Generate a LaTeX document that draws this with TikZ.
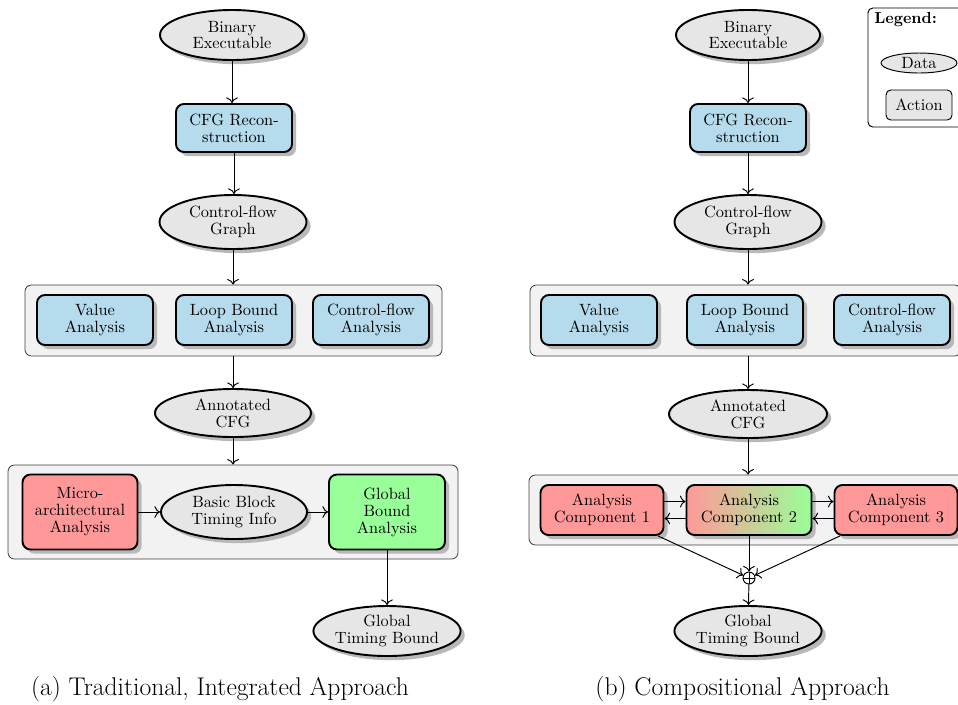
\documentclass[tikz,border=0pt]{standalone}
\usetikzlibrary{shapes.geometric,shadows,arrows.meta}
\definecolor{actblue}{RGB}{181,219,236}
\definecolor{actred}{RGB}{255,153,153}
\definecolor{actgreen}{RGB}{153,255,153}
\definecolor{datagray}{RGB}{230,230,230}
\definecolor{groupgray}{RGB}{242,242,242}
\tikzset{
  sz/.style 2 args={minimum width=#1*0.625pt,minimum height=#2*0.625pt},
  softshadow/.style={drop shadow={shadow xshift=2.6pt,shadow yshift=-2.6pt,fill=black!28,opacity=1}},
  nodefont/.style={font=\fontsize{10.2}{10.6}\selectfont},
  datanode/.style={ellipse,draw,line width=1.2pt,fill=datagray,align=center,inner sep=0pt,nodefont,softshadow},
  actnode/.style={rectangle,rounded corners=5pt,draw,line width=1.2pt,align=center,inner sep=0pt,nodefont,softshadow},
  groupbox/.style={rectangle,rounded corners=4pt,draw=black!75,line width=0.5pt,fill=groupgray,inner sep=0pt},
  flow/.style={-{To[scale=1.2]},line width=0.6pt},
  captext/.style={font=\fontsize{16}{19}\selectfont,inner sep=0pt},
}
\begin{document}
\begin{tikzpicture}[x=0.625pt,y=-0.625pt]
\useasboundingbox (0,0) rectangle (958,704);

% ---------------- (a) traditional, integrated approach ----------------
\node[groupbox,sz={417}{71}] (g1a) at (233.5,320.5) {};
\node[groupbox,sz={450}{94}] (g1b) at (233,512) {};

\node[datanode,sz={144}{50}] (be1) at (232,35) {Binary\\Executable};
\node[actnode,fill=actblue,sz={116}{48}] (cfg1) at (234,128) {CFG Recon-\\struction};
\node[datanode,sz={147}{54}] (cg1) at (233,222) {Control-flow\\Graph};
\node[actnode,fill=actblue,sz={116}{50}] (va1) at (95,320) {Value\\Analysis};
\node[actnode,fill=actblue,sz={116}{50}] (lb1) at (234,320) {Loop Bound\\Analysis};
\node[actnode,fill=actblue,sz={116}{50}] (cf1) at (371,320) {Control-flow\\Analysis};
\node[datanode,sz={156}{48}] (ac1) at (233,413) {Annotated\\CFG};
\node[actnode,fill=actred,sz={115}{75}] (ma1) at (80,512) {Micro-\\architectural\\Analysis};
\node[datanode,sz={146}{54}] (bb1) at (234,512) {Basic Block\\Timing Info};
\node[actnode,fill=actgreen,sz={116}{75}] (gb1) at (387,512) {Global\\Bound\\Analysis};
\node[datanode,sz={146}{50}] (gt1) at (387,631) {Global\\Timing Bound};

\draw[flow] (be1) -- (be1 |- cfg1.north);
\draw[flow] (cfg1) -- (cfg1 |- cg1.north);
\draw[flow] (cg1) -- (cg1 |- g1a.north);
\draw[flow] (g1a.south -| ac1) -- (ac1);
\draw[flow] (ac1) -- (ac1 |- g1b.north);
\draw[flow] (ma1) -- (bb1);
\draw[flow] (bb1) -- (gb1);
\draw[flow] (gb1) -- (gt1);

\node[captext] (capa) at (220,689) {(a) Traditional, Integrated Approach};

% ---------------- (b) compositional approach ----------------
\node[groupbox,sz={431}{71}] (g2a) at (745.5,320.5) {};
\node[groupbox,sz={440}{70}] (g2b) at (749,510) {};

\node[datanode,sz={144}{50}] (be2) at (748,35) {Binary\\Executable};
\node[actnode,fill=actblue,sz={116}{48}] (cfg2) at (748,128) {CFG Recon-\\struction};
\node[datanode,sz={147}{54}] (cg2) at (748,222) {Control-flow\\Graph};
\node[actnode,fill=actblue,sz={116}{50}] (va2) at (599,320) {Value\\Analysis};
\node[actnode,fill=actblue,sz={116}{50}] (lb2) at (745,320) {Loop Bound\\Analysis};
\node[actnode,fill=actblue,sz={116}{50}] (cf2) at (892,320) {Control-flow\\Analysis};
\node[datanode,sz={158}{48}] (ac2) at (748,414) {Annotated\\CFG};
\node[actnode,fill=actred,sz={123}{50}] (c1) at (602,510) {Analysis\\Component 1};
\node[actnode,left color=actred,right color=actgreen,sz={125}{50}] (c2) at (749,510) {Analysis\\Component 2};
\node[actnode,fill=actred,sz={123}{50}] (c3) at (896,510) {Analysis\\Component 3};
\node[circle,draw,line width=0.6pt,inner sep=0pt,minimum size=12*0.625pt,
      path picture={\draw[line width=0.6pt] (path picture bounding box.west) -- (path picture bounding box.east);
                    \draw[line width=0.6pt] (path picture bounding box.north) -- (path picture bounding box.south);}]
      (op) at (749,578) {};
\node[datanode,sz={146}{50}] (gt2) at (748,631) {Global\\Timing Bound};

\draw[flow] (be2) -- (cfg2);
\draw[flow] (cfg2) -- (cg2);
\draw[flow] (cg2) -- (cg2 |- g2a.north);
\draw[flow] (g2a.south -| ac2) -- (ac2);
\draw[flow] (ac2) -- (ac2 |- g2b.north);
\draw[flow] ([yshift=5.3pt]c1.east) -- ([yshift=5.3pt]c1.east -| c2.west);
\draw[flow] ([yshift=-5.3pt]c2.west) -- ([yshift=-5.3pt]c2.west -| c1.east);
\draw[flow] ([yshift=5.3pt]c2.east) -- ([yshift=5.3pt]c2.east -| c3.west);
\draw[flow] ([yshift=-5.3pt]c3.west) -- ([yshift=-5.3pt]c3.west -| c2.east);
\draw[flow] (c1) -- (op);
\draw[flow] (c2) -- (op);
\draw[flow] (c3) -- (op);
\draw[flow] (op) -- (gt2);

\node[captext] (capb) at (742.5,689) {(b) Compositional Approach};

% ---------------- legend ----------------
\node[rectangle,rounded corners=3pt,draw,line width=0.6pt,fill=white,sz={100}{119}] (leg) at (918,67.5) {};
\node[anchor=west,inner sep=0pt,font=\bfseries] (legt) at (874,20) {Legend:};
\node[ellipse,draw,line width=0.6pt,fill=datagray,inner sep=0pt,nodefont,sz={76}{20}] (legd) at (919,63) {Data};
\node[rectangle,rounded corners=3pt,draw,line width=0.6pt,fill=datagray,inner sep=0pt,nodefont,sz={66}{30}] (lega) at (919,105) {Action};
\end{tikzpicture}
\end{document}
